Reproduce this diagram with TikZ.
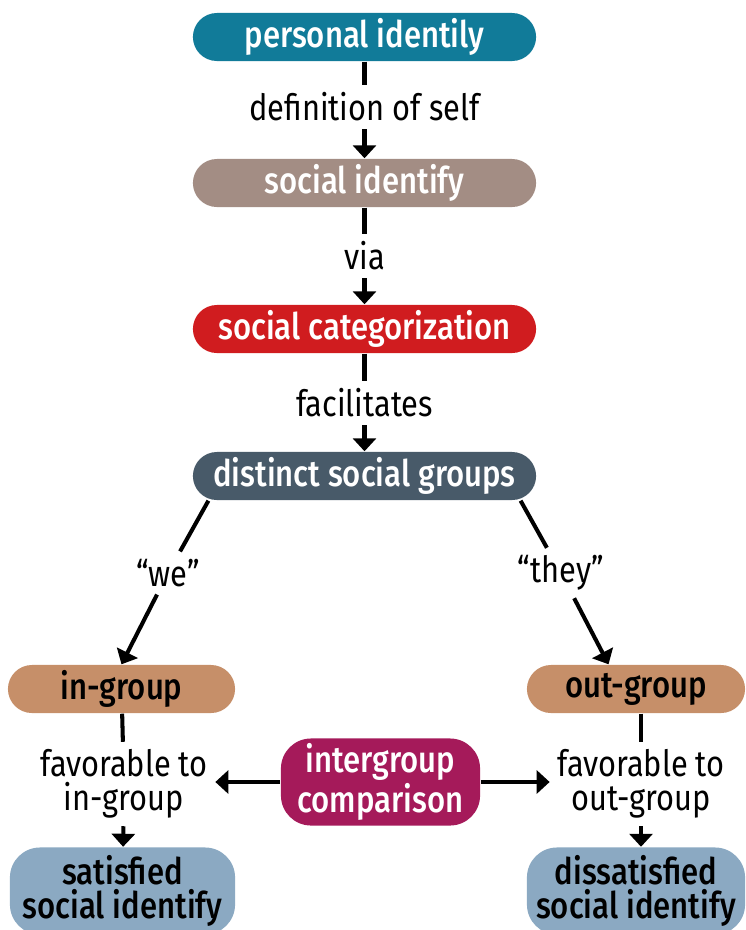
\documentclass[tikz,border=0pt]{standalone}
\usepackage{fontspec}
\setmainfont{Fira Sans}[FakeStretch=0.85, BoldFont={Fira Sans Medium}]
\usetikzlibrary{arrows.meta}

\definecolor{personal}{HTML}{117B99}
\definecolor{socialid}{HTML}{A38D84}
\definecolor{categ}{HTML}{D01C1F}
\definecolor{groups}{HTML}{485A69}
\definecolor{side}{HTML}{C68F69}
\definecolor{compare}{HTML}{A51A5A}
\definecolor{outcome}{HTML}{8BA9C2}

\tikzset{
	box/.style={rounded corners=0.24cm, minimum width=3.43cm, minimum height=0.48cm,
		inner sep=0pt, align=center, font=\fontsize{10.4}{9.7}\selectfont\bfseries},
	tallbox/.style={box, rounded corners=0.3cm, minimum height=0.87cm},
	lbl/.style={inner sep=2pt, align=center, font=\fontsize{10.3}{9.7}\selectfont},
	link/.style={line width=1.15pt},
	linkarrow/.style={link, -{Triangle[width=0.23cm,length=0.13cm]}}
}

\begin{document}
\begin{tikzpicture}[x=0.01cm, y=-0.01cm]
	\useasboundingbox (0,0) rectangle (746,930);

	% Middle column
	\node[box, fill=personal, text=white] (personal) at (364.5,37) {personal identily};
	\node[box, fill=socialid, text=white] (social) at (364.5,183) {social identify};
	\node[box, fill=categ, text=white] (categ) at (364.5,329) {social categorization};
	\node[box, fill=groups, text=white] (groups) at (364.5,476) {distinct social groups};

	\node[lbl] (defself) at (364.5,107) {definition of self};
	\node[lbl] (via) at (364.5,256) {via};
	\node[lbl] (facil) at (364.5,403) {facilitates};

	\draw[link] (personal) -- (defself);
	\draw[linkarrow] (defself) -- (social);
	\draw[link] (social) -- (via);
	\draw[linkarrow] (via) -- (categ);
	\draw[link] (categ) -- (facil);
	\draw[linkarrow] (facil) -- (groups);

	% In-group and out-group
	\node[box, fill=side, minimum width=2.27cm] (ingroup) at (121.5,689) {in-group};
	\node[box, fill=side, minimum width=2.18cm] (outgroup) at (636,689) {out-group};

	\node[lbl] (we) at (168,573) {“we”};
	\node[lbl] (they) at (561,573) {“they”};

	\draw[link] (groups.189) -- (we);
	\draw[linkarrow] (we) -- (ingroup.north);
	\draw[link] (groups.351) -- (they);
	\draw[linkarrow] (they) -- (outgroup.138);

	% Comparison and outcomes
	\node[tallbox, fill=compare, text=white, minimum width=1.99cm] (compare) at (380.5,782) {intergroup\\comparison};
	\node[lbl] (favin) at (124,784) {favorable to\\in-group};
	\node[lbl] (favout) at (641,784) {favorable to\\out-group};

	\node[tallbox, fill=outcome, minimum width=2.25cm] (satisfied) at (122.5,891) {satisfied\\social identify};
	\node[tallbox, fill=outcome, minimum width=2.18cm] (dissatisfied) at (636,891) {dissatisfied\\social identify};

	\draw[link] (ingroup) -- (favin);
	\draw[linkarrow] (favin) -- (satisfied);
	\draw[link] (outgroup.south -| favout) -- (favout);
	\draw[linkarrow] (favout) -- (favout |- dissatisfied.north);
	\draw[linkarrow] (compare) -- (compare -| favin.east);
	\draw[linkarrow] (compare) -- (compare -| favout.west);
\end{tikzpicture}
\end{document}
